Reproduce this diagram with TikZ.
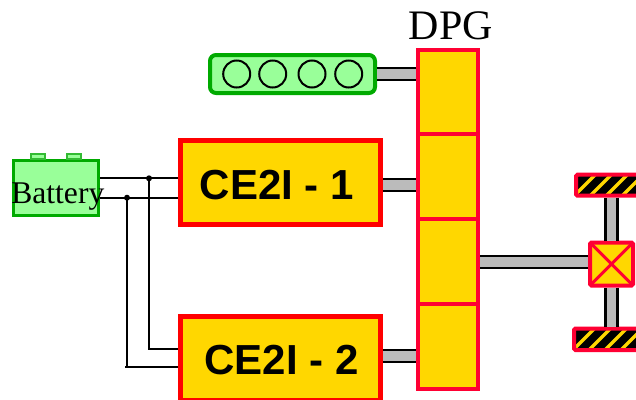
\documentclass[tikz,border=0pt]{standalone}
\usepackage{fontspec}
\setmainfont{Liberation Serif}
\setsansfont{Liberation Sans}
\usetikzlibrary{calc, positioning}
\definecolor{vert}{RGB}{0,170,0}
\definecolor{vertclair}{RGB}{153,255,153}
\definecolor{jaune}{RGB}{255,215,0}
\definecolor{rouge}{RGB}{255,0,51}
\definecolor{gris}{RGB}{187,187,187}

\begin{document}
\begin{tikzpicture}[x=1pt,y=-1pt]
	\tikzstyle{ce2i}=[draw=red,fill=jaune,line width=5pt,minimum width=200pt,minimum height=84pt,inner sep=0pt,
		font=\sffamily\bfseries\fontsize{42}{42}\selectfont]
	\tikzstyle{bloc}=[draw=rouge,fill=jaune,line width=4pt,minimum width=60pt,minimum height=85pt,inner sep=0pt]
	\tikzstyle{cyl}=[draw=black,circle,line width=2pt,minimum size=27pt,inner sep=0pt]
	\tikzstyle{arbre}=[draw=black,line width=2.5pt,double=gris,double distance=9.5pt]
	\tikzstyle{fil}=[draw=black,line width=2pt]
	\tikzstyle{point}=[fill=black,circle,minimum size=6pt,inner sep=0pt]
	\tikzstyle{roue}=[draw=rouge,line width=4pt,rounded corners=1.5pt,inner sep=0pt]
	\useasboundingbox (0,0) rectangle (636,399);

	\node[draw=vert,fill=vertclair,line width=4pt,rounded corners=6pt,minimum width=165pt,
		minimum height=38pt,inner sep=0pt] (moteur) at (292.5,74) {};
	\foreach \cx [count=\ci] in {236.7,272.7,312,348.7}
		\node[cyl] (cyl\ci) at (\cx,74) {};

	\node[bloc,minimum height=84pt] (dpgA) at (448,91.5) {};
	\node[bloc,below=-4pt of dpgA] (dpgB) {};
	\node[bloc,below=-4pt of dpgB] (dpgC) {};
	\node[bloc,below=-4pt of dpgC] (dpgD) {};
	\node[font=\fontsize{42}{42}\selectfont] (dpg) at (451,26) {DPG};

	\node[ce2i,text height=34pt] (ce1) at (280.5,182.5) {\hspace{-7pt}CE2I - 1};
	\node[ce2i,text height=32pt] (ce2) at (280.5,358.5) {\hspace{2pt}CE2I - 2};

	\node[draw=vert,fill=vertclair,line width=3pt,minimum width=85pt,minimum height=55.5pt,
		inner sep=0pt] (batterie) at (55.8,188.2) {};
	\node[draw=vert!80,fill=vertclair,line width=2pt,minimum width=14pt,minimum height=5pt,
		inner sep=0pt] (borneA) at (38.2,156) {};
	\node[draw=vert!80,fill=vertclair,line width=2pt,minimum width=14pt,minimum height=5pt,
		inner sep=0pt] (borneB) at (73.5,156) {};
	\node[anchor=base,inner sep=0pt,font=\fontsize{31.6}{32}\selectfont] (nomBatterie) at (57.8,203) {Battery};

	\coordinate (plus) at (100,178.3);
	\coordinate (moins) at (100,197.7);
	\coordinate (tapA) at (149,178.3);
	\coordinate (tapB) at (127,197.7);
	\coordinate (entreeA) at (149,349);
	\coordinate (entreeB) at (127,367);
	\coordinate (finB) at (125,367);
	\draw[fil] (plus) -- (plus -| ce1.west);
	\draw[fil] (moins) -- (moins -| ce1.west);
	\draw[fil] (tapA) -- (entreeA) -- (entreeA -| ce2.west);
	\draw[fil] (tapB) -- (entreeB);
	\draw[fil] (finB) -- (finB -| ce2.west);
	\node[point] (pointA) at (tapA) {};
	\node[point] (pointB) at (tapB) {};

	\node[draw=rouge,fill=jaune,line width=4pt,rounded corners=1.5pt,minimum size=43pt,inner sep=0pt] (diff) at (611.5,264) {};
	\draw[draw=rouge,line width=3pt] ([shift={(2,2)}]diff.north west) -- ([shift={(-2,-2)}]diff.south east);
	\draw[draw=rouge,line width=3pt] ([shift={(-2,2)}]diff.north east) -- ([shift={(2,-2)}]diff.south west);

	\fill[black] (576,175) rectangle (640,195);
	\fill[black] (574,329) rectangle (640,350);
	\begin{scope}
		\clip (576,175) rectangle (640,195) (574,329) rectangle (640,350);
		\foreach \sx in {0,...,5} {
			\draw[jaune,line width=3.5pt] (572+16*\sx,198) -- (600+16*\sx,170);
			\draw[jaune,line width=3.5pt] (570+16*\sx,353) -- (600+16*\sx,323);
		}
	\end{scope}
	\node[roue,minimum width=71pt,minimum height=21pt] (roueH) at (611.5,185.2) {};
	\node[roue,minimum width=75pt,minimum height=21.5pt] (roueB) at (611.5,339.3) {};

	\coordinate (sortieM) at (dpgA.west |- moteur.east);
	\coordinate (sortieA) at (ce1.east |- 0,185);
	\coordinate (sortieB) at (ce2.east |- 0,356);
	\coordinate (sortieD) at (dpgC.east |- 0,262);
	\draw[arbre] (moteur.east) -- (sortieM);
	\draw[arbre] (sortieA) -- (sortieA -| dpgB.west);
	\draw[arbre] (sortieB) -- (sortieB -| dpgD.west);
	\draw[arbre] (sortieD) -- (sortieD -| diff.west);
	\draw[arbre] (roueH.south) -- (diff.north);
	\draw[arbre] (diff.south) -- (roueB.north);
\end{tikzpicture}
\end{document}
